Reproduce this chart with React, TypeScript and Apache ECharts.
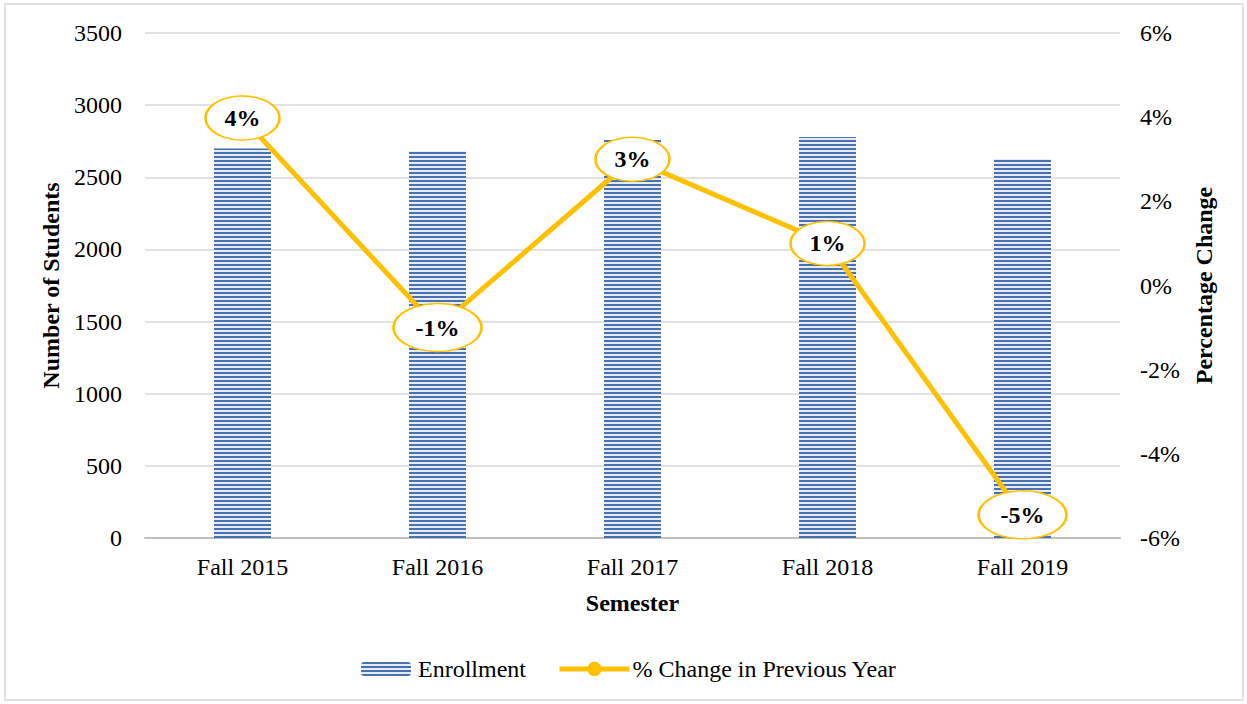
import React, { useEffect, useRef } from "react";
import * as echarts from "echarts";

const semesters = ["Fall 2015", "Fall 2016", "Fall 2017", "Fall 2018", "Fall 2019"];
const enrollment = [2700, 2680, 2760, 2780, 2627];
const pctChange = [3.98, -1.0, 3.0, 1.0, -5.45];
const leftTicks = [0, 3500, 500];
const rightTicks = [-6, 6, 2];

const FONT = '"Liberation Serif", "Times New Roman", serif';
const GOLD = "#FFC000";
const FS = 24;

export default function App() {
  const ref = useRef<HTMLDivElement>(null);
  useEffect(() => {
    document.body.style.margin = "0";
    const chart = echarts.init(ref.current!, undefined, { renderer: "svg" });
    chart.setOption({
      animation: false,
      backgroundColor: "#ffffff",
      textStyle: { fontFamily: FONT, color: "#000" },
      graphic: [
        {
          type: "rect",
          shape: { x: 5, y: 4, width: 1238, height: 696 },
          style: { fill: "none", stroke: "#d9d9d9", lineWidth: 1.5 },
          silent: true,
        },
      ],
      grid: { left: 145, right: 127, top: 33, bottom: 166 },
      legend: [
        {
          left: 361,
          top: 657,
          padding: 0,
          itemWidth: 50,
          itemHeight: 14,
          itemGap: 0,
          textStyle: { fontFamily: FONT, fontSize: FS, color: "#000", padding: [0, 0, 0, 2] },
          data: [{ name: "Enrollment" }],
        },
        {
          left: 557,
          top: 657,
          padding: 0,
          itemWidth: 70,
          itemHeight: 18,
          textStyle: { fontFamily: FONT, fontSize: FS, color: "#000", padding: [0, 0, 0, -2] },
          data: [
            {
              name: "% Change in Previous Year",
              itemStyle: { color: GOLD, borderColor: GOLD, borderWidth: 0 },
              lineStyle: { color: GOLD, width: 5 },
            },
          ],
        },
      ],
      xAxis: {
        type: "category",
        data: semesters,
        name: "Semester",
        nameLocation: "middle",
        nameGap: 53,
        nameTextStyle: { fontFamily: FONT, fontSize: FS, fontWeight: "bold", color: "#000" },
        axisLine: { lineStyle: { color: "#bfbfbf", width: 2 } },
        axisTick: { show: false },
        axisLabel: { fontFamily: FONT, fontSize: FS, color: "#000", margin: 17 },
      },
      yAxis: [
        {
          type: "value",
          min: leftTicks[0],
          max: leftTicks[1],
          interval: leftTicks[2],
          name: "Number of Students",
          nameLocation: "middle",
          nameGap: 78,
          nameTextStyle: { fontFamily: FONT, fontSize: FS, fontWeight: "bold", color: "#000" },
          axisLine: { show: false },
          axisTick: { show: false },
          axisLabel: {
            fontFamily: FONT,
            fontSize: FS,
            color: "#000",
            margin: 23,
            formatter: (v: number) => String(v),
          },
          splitLine: { lineStyle: { color: "#d9d9d9", width: 1.5 } },
        },
        {
          type: "value",
          min: rightTicks[0],
          max: rightTicks[1],
          interval: rightTicks[2],
          name: "Percentage Change",
          nameLocation: "middle",
          nameGap: 72,
          nameRotate: 90,
          nameTextStyle: { fontFamily: FONT, fontSize: FS, fontWeight: "bold", color: "#000" },
          axisLine: { show: false },
          axisTick: { show: false },
          splitLine: { show: false },
          axisLabel: {
            fontFamily: FONT,
            fontSize: FS,
            color: "#000",
            margin: 20,
            formatter: (v: number) => `${v}%`,
          },
        },
      ],
      series: [
        {
          name: "Enrollment",
          type: "bar",
          data: enrollment,
          barWidth: 57,
          itemStyle: {
            color: "#e6ecf6",
            decal: {
              symbol: "rect",
              symbolSize: 1,
              dashArrayX: [1, 0],
              dashArrayY: [2, 1.4],
              rotation: 0,
              color: "#4a72b0",
            },
          },
        },
        {
          name: "% Change in Previous Year",
          type: "line",
          yAxisIndex: 1,
          data: pctChange,
          z: 5,
          symbol: "circle",
          symbolSize: (v: number) => (v < 0 ? [88, 48] : [74, 44]),
          lineStyle: { color: GOLD, width: 5 },
          itemStyle: { color: "#ffffff", borderColor: GOLD, borderWidth: 2 },
          label: {
            show: true,
            position: "inside",
            fontFamily: FONT,
            fontSize: FS,
            fontWeight: "bold",
            color: "#000",
            formatter: (p: any) => `${Math.round(p.value)}%`,
          },
        },
      ],
    });
    return () => chart.dispose();
  }, []);
  return <div ref={ref} style={{ width: 1247, height: 704 }} />;
}
